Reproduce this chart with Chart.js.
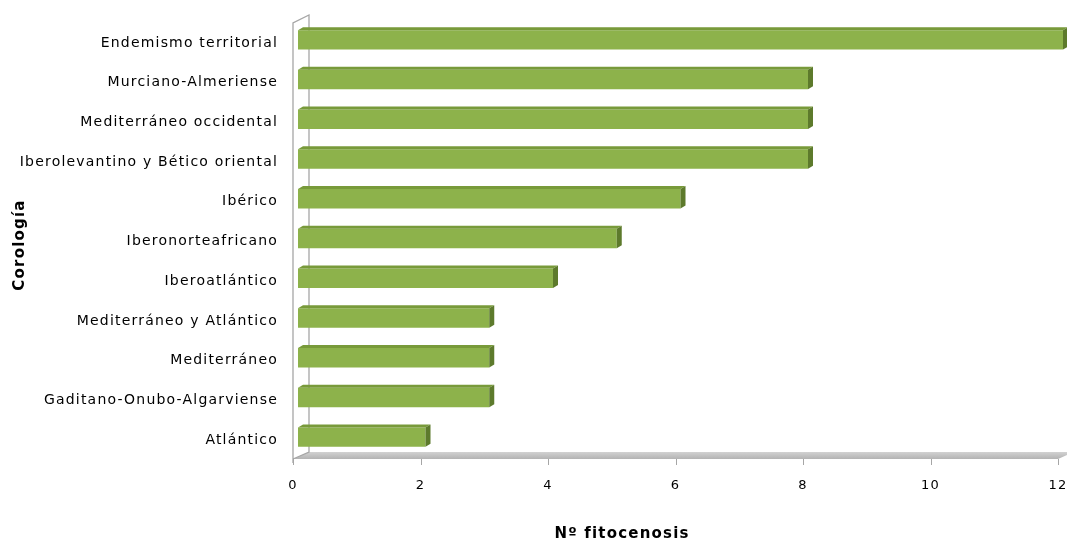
<!DOCTYPE html>
<html>
<head>
<meta charset="utf-8">
<script src="https://cdn.jsdelivr.net/npm/chart.js@4.4.1/dist/chart.umd.min.js"></script>
<style>
  html, body { margin: 0; padding: 0; background: #ffffff; }
  #wrap { width: 1067px; height: 542px; position: relative; }
</style>
</head>
<body>
<div id="wrap"><canvas id="chart" width="1067" height="542"></canvas></div>
<script>
// Corology groups, listed top to bottom
const categories = [
  'Endemismo territorial',
  'Murciano-Almeriense',
  'Mediterráneo occidental',
  'Iberolevantino y Bético oriental',
  'Ibérico',
  'Iberonorteafricano',
  'Iberoatlántico',
  'Mediterráneo y Atlántico',
  'Mediterráneo',
  'Gaditano-Onubo-Algarviense',
  'Atlántico'
];
// Number of phytocoenoses per group
const fitocenosis = [12, 8, 8, 8, 6, 5, 4, 3, 3, 3, 2];
const xTicks = [0, 2, 4, 6, 8, 10, 12];
const xTitle = 'Nº fitocenosis';
const yTitle = 'Corología';

const FONT = '"DejaVu Sans", Verdana, sans-serif';
const SPACING = '1.2px';
const BAR_SHIFT = 5;          // bars sit slightly behind the front wall edge
const BAR_DX = 5, BAR_DY = 3; // bar depth
const WALL_DX = 16, WALL_DY = 8; // wall / floor depth

// 3D look: wall, floor, bar top & side faces, axis titles
const depthPlugin = {
  id: 'depth3d',
  beforeUpdate(chart) { chart.ctx.letterSpacing = SPACING; },
  beforeDraw(chart) { chart.ctx.letterSpacing = SPACING; },
  beforeDatasetsDraw(chart) {
    const { ctx, chartArea: a } = chart;
    const floorY = a.bottom + 2;
    ctx.save();
    // floor slab
    const g = ctx.createLinearGradient(0, floorY - WALL_DY + 1, 0, floorY);
    g.addColorStop(0, '#d2d2d2');
    g.addColorStop(1, '#b3b3b3');
    ctx.fillStyle = g;
    ctx.beginPath();
    ctx.moveTo(a.left, floorY);
    ctx.lineTo(a.right, floorY);
    ctx.lineTo(a.right + WALL_DX, floorY - WALL_DY + 1);
    ctx.lineTo(a.left + WALL_DX, floorY - WALL_DY + 1);
    ctx.closePath();
    ctx.fill();
    // side wall outline
    ctx.strokeStyle = '#a6a6a6';
    ctx.lineWidth = 1.3;
    const wallTop = a.top + 3;
    ctx.beginPath();
    ctx.moveTo(a.left, floorY + 4);
    ctx.lineTo(a.left, wallTop);
    ctx.lineTo(a.left + WALL_DX, wallTop - WALL_DY);
    ctx.lineTo(a.left + WALL_DX, floorY - WALL_DY + 1);
    ctx.lineTo(a.left, floorY);
    ctx.stroke();
    // tick marks under the floor
    const xs = chart.scales.x;
    ctx.strokeStyle = '#a6a6a6';
    ctx.lineWidth = 1;
    xTicks.forEach(v => {
      const px = Math.round(xs.getPixelForValue(v)) + 0.5;
      ctx.beginPath();
      ctx.moveTo(px, floorY);
      ctx.lineTo(px, floorY + 6);
      ctx.stroke();
    });
    ctx.restore();
    // shift the bars behind the wall's front edge
    ctx.save();
    ctx.translate(BAR_SHIFT, 0);
  },
  afterDatasetsDraw(chart) {
    const { ctx } = chart;
    const meta = chart.getDatasetMeta(0);
    meta.data.forEach(bar => {
      const p = bar.getProps(['x', 'y', 'base', 'height'], true);
      const left = p.base, right = p.x;
      const top = p.y - p.height / 2, bottom = p.y + p.height / 2;
      // top face
      ctx.fillStyle = '#789a3a';
      ctx.beginPath();
      ctx.moveTo(left, top);
      ctx.lineTo(right, top);
      ctx.lineTo(right + BAR_DX, top - BAR_DY);
      ctx.lineTo(left + BAR_DX, top - BAR_DY);
      ctx.closePath();
      ctx.fill();
      // side face
      ctx.fillStyle = '#5d7a2c';
      ctx.beginPath();
      ctx.moveTo(right, top);
      ctx.lineTo(right + BAR_DX, top - BAR_DY);
      ctx.lineTo(right + BAR_DX, bottom - BAR_DY);
      ctx.lineTo(right, bottom);
      ctx.closePath();
      ctx.fill();
    });
    ctx.restore();
  },
  afterDraw(chart) {
    const { ctx } = chart;
    ctx.save();
    ctx.letterSpacing = SPACING;
    ctx.fillStyle = '#000000';
    ctx.font = 'bold 15px ' + FONT;
    ctx.textAlign = 'center';
    ctx.textBaseline = 'middle';
    ctx.fillText(xTitle, 622, 534);
    ctx.translate(20, 245);
    ctx.rotate(-Math.PI / 2);
    ctx.fillText(yTitle, 0, 0);
    ctx.restore();
  }
};

new Chart(document.getElementById('chart'), {
  type: 'bar',
  data: {
    labels: categories,
    datasets: [{
      data: fitocenosis,
      backgroundColor: '#8db24b',
      borderWidth: 0,
      categoryPercentage: 1,
      barPercentage: 0.49
    }]
  },
  options: {
    indexAxis: 'y',
    responsive: false,
    animation: false,
    events: [],
    layout: { padding: { top: 20, right: 9, bottom: 0, left: 0 } },
    plugins: { legend: { display: false }, tooltip: { enabled: false } },
    scales: {
      x: {
        type: 'linear',
        min: 0,
        max: 12,
        afterBuildTicks(scale) { scale.ticks = xTicks.map(v => ({ value: v })); },
        afterFit(scale) {
          scale.height = 85;
          scale.paddingLeft = 0;
          scale.paddingRight = 0;
        },
        grid: { display: false },
        border: { display: false },
        ticks: {
          color: '#000000',
          font: { family: FONT, size: 13 },
          padding: 13,
          maxRotation: 0
        }
      },
      y: {
        type: 'category',
        afterFit(scale) {
          scale.width = 293;
          scale.paddingTop = 0;
          scale.paddingBottom = 0;
        },
        grid: { display: false },
        border: { display: false },
        ticks: {
          color: '#000000',
          font: { family: FONT, size: 14 },
          padding: 7,
          labelOffset: 3,
          autoSkip: false
        }
      }
    }
  },
  plugins: [depthPlugin]
});
</script>
</body>
</html>
